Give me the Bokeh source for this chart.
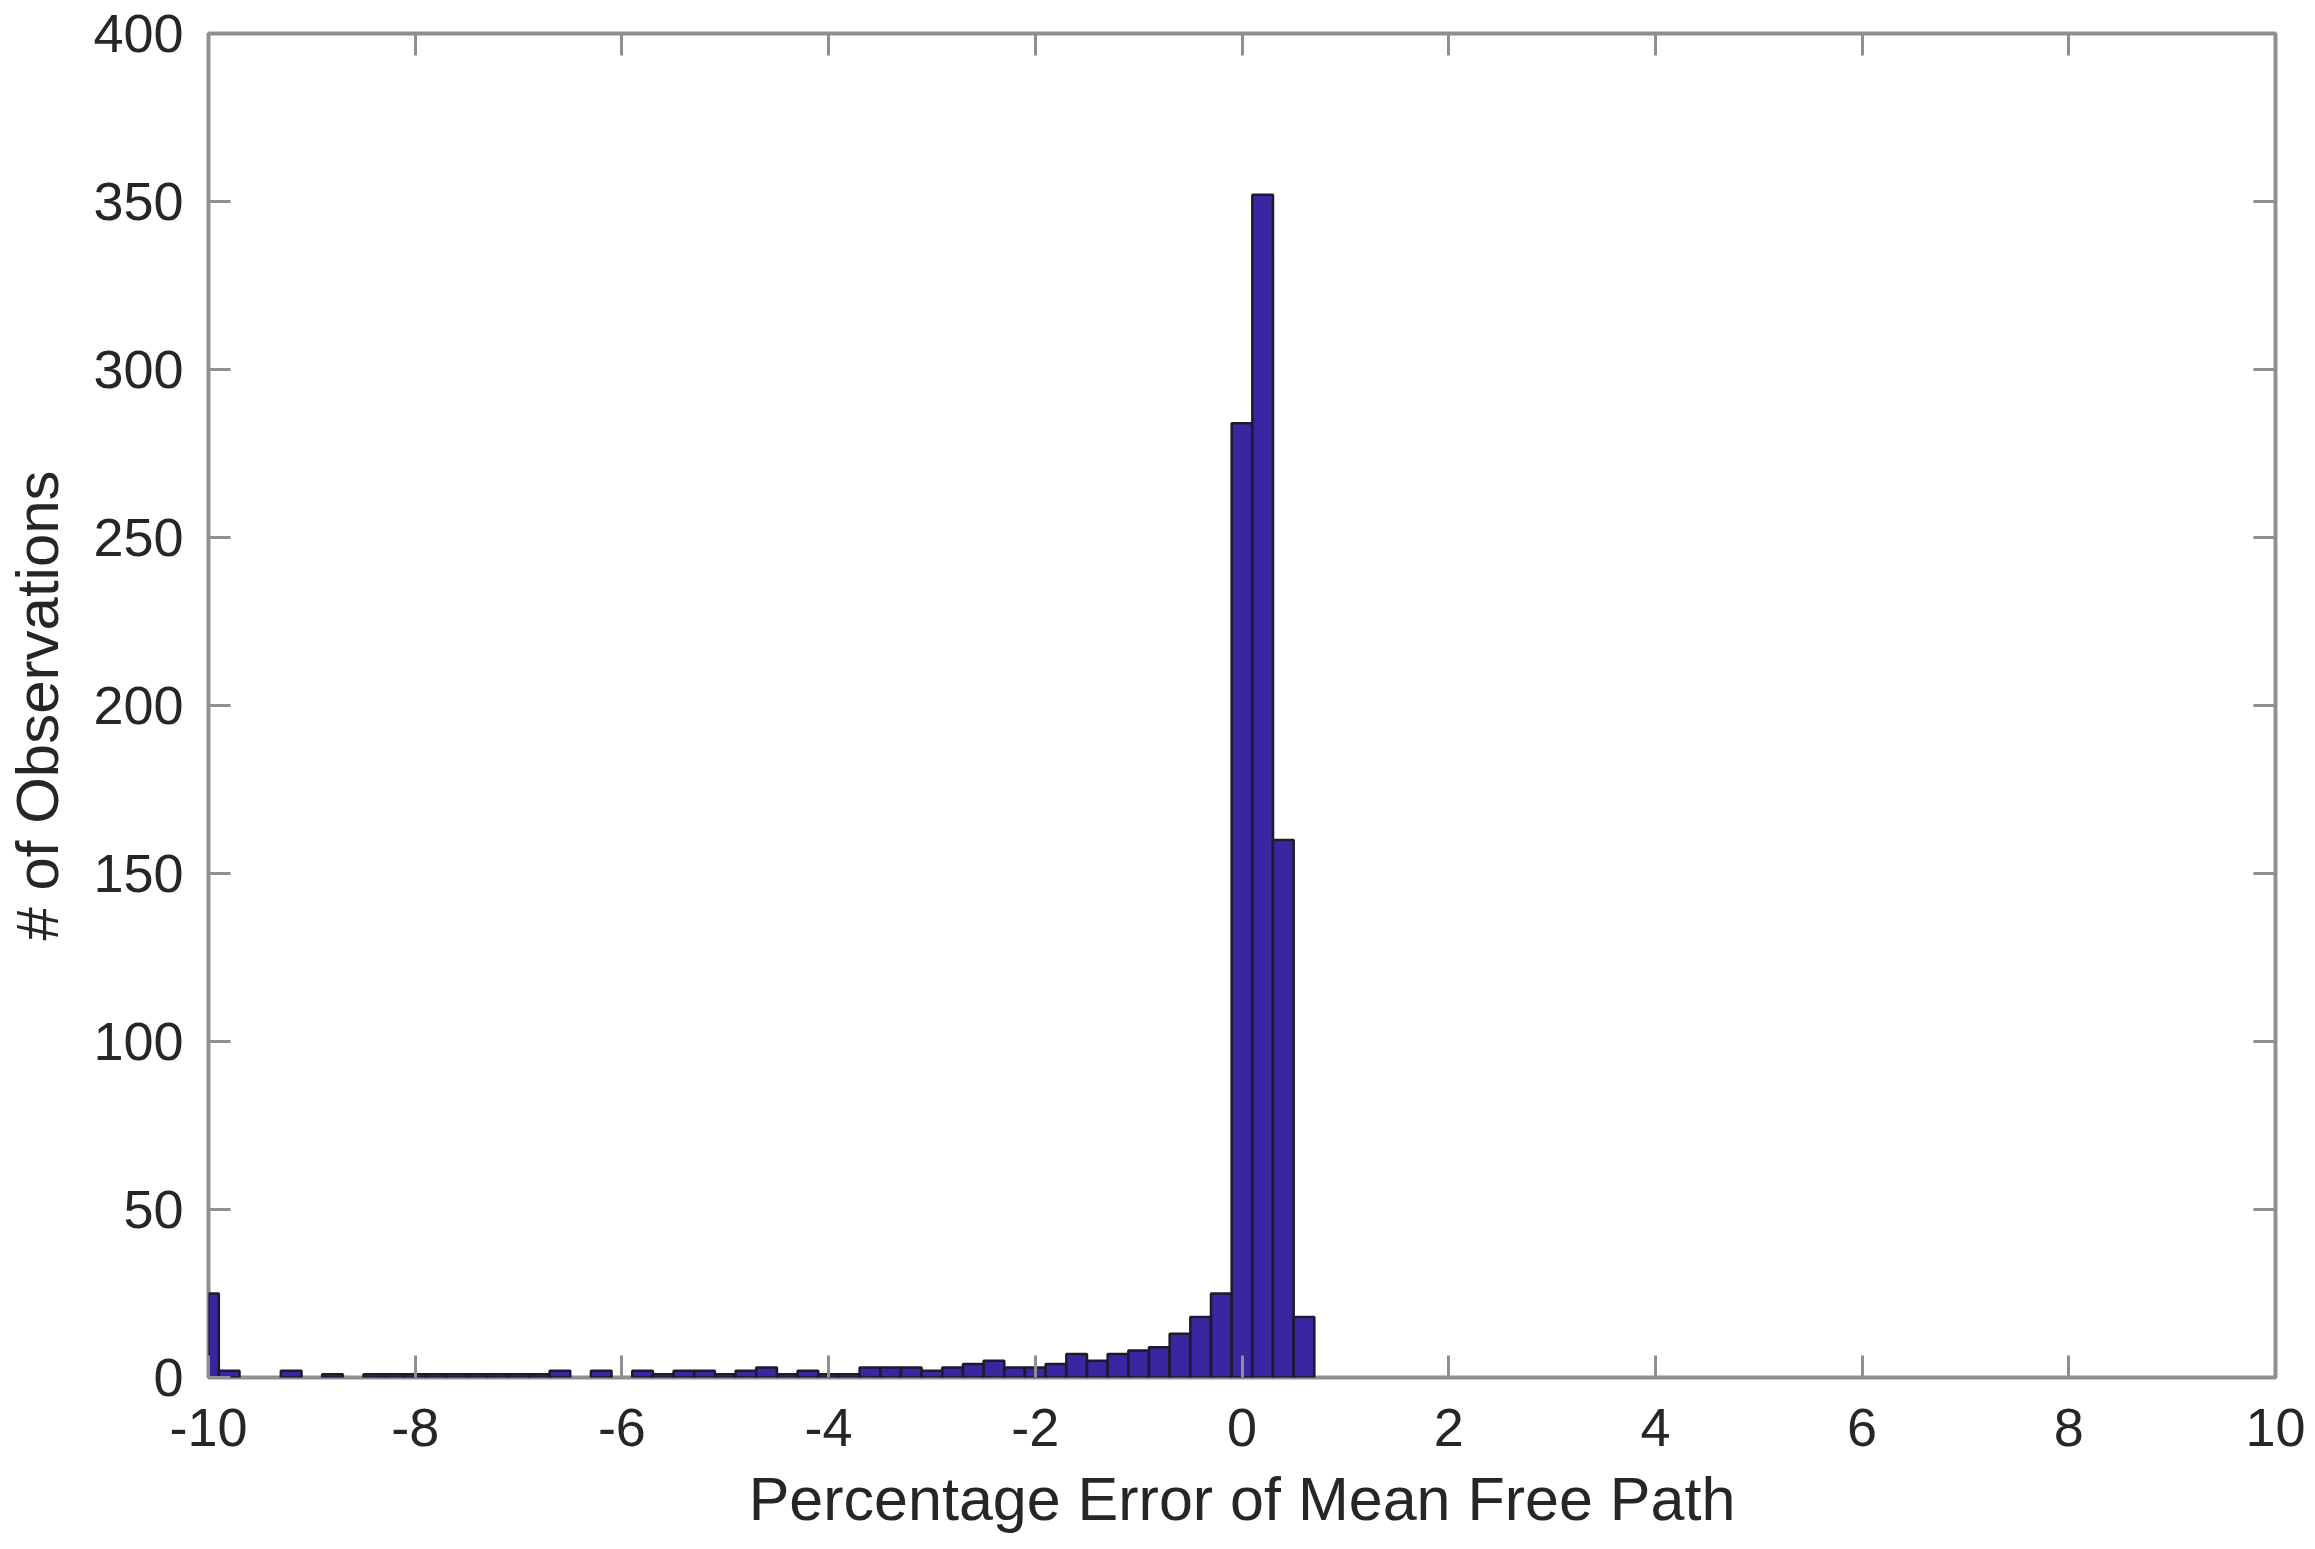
from bokeh.plotting import figure
from bokeh.models import Range1d, LinearAxis, FixedTicker, CustomJSTickFormatter
from bokeh.embed import file_html
from bokeh.resources import INLINE

# Histogram data (bin centers, counts)
bin_centers = [-10.0, -9.8, -9.6, -9.4, -9.2, -9.0, -8.8, -8.6, -8.4, -8.2,
               -8.0, -7.8, -7.6, -7.4, -7.2, -7.0, -6.8, -6.6, -6.4, -6.2,
               -6.0, -5.8, -5.6, -5.4, -5.2, -5.0, -4.8, -4.6, -4.4, -4.2,
               -4.0, -3.8, -3.6, -3.4, -3.2, -3.0, -2.8, -2.6, -2.4, -2.2,
               -2.0, -1.8, -1.6, -1.4, -1.2, -1.0, -0.8, -0.6, -0.4, -0.2,
               0.0, 0.2, 0.4, 0.6]
counts = [25, 2, 0, 0, 2, 0, 1, 0, 1, 1,
          1, 1, 1, 1, 1, 1, 1, 2, 0, 2,
          0, 2, 1, 2, 2, 1, 2, 3, 1, 2,
          1, 1, 3, 3, 3, 2, 3, 4, 5, 3,
          3, 4, 7, 5, 7, 8, 9, 13, 18, 25,
          284, 352, 160, 18]
bin_width = 0.2

x_ticks = [-10, -8, -6, -4, -2, 0, 2, 4, 6, 8, 10]
y_ticks = [0, 50, 100, 150, 200, 250, 300, 350, 400]
x_label = "Percentage Error of Mean Free Path"
y_label = "# of Observations"

FONT = "Liberation Sans"
AX = "#8f8f8f"
TXT = "#262626"

# empty bins draw nothing (as in the reference)
nz_x = [c for c, n in zip(bin_centers, counts) if n > 0]
nz_n = [n for n in counts if n > 0]

p = figure(width=2312, height=1549, output_backend="svg", toolbar_location=None,
           x_range=Range1d(-10, 10), y_range=Range1d(0, 400),
           min_border_left=208, min_border_right=37, min_border_top=33,
           min_border_bottom=172)
p.background_fill_color = "white"
p.border_fill_color = "white"
p.outline_line_color = AX
p.outline_line_width = 4
p.xgrid.visible = False
p.ygrid.visible = False

p.vbar(x=nz_x, top=nz_n, bottom=0, width=bin_width,
       fill_color="#3b25a0", line_color="#1c1a2c", line_width=2.5)

p.add_layout(LinearAxis(), "right")
p.add_layout(LinearAxis(), "above")

plain = CustomJSTickFormatter(code="return tick.toString();")
blank = CustomJSTickFormatter(code="return '';")

for ax in p.axis:
    ax.axis_line_color = None
    ax.major_tick_in = 22
    ax.major_tick_out = 0
    ax.minor_tick_line_color = None
    ax.major_tick_line_color = AX
    ax.major_tick_line_width = 3
    ax.major_label_text_font = FONT
    ax.major_label_text_color = TXT
    ax.major_label_text_font_size = "54px"
    ax.axis_label_text_font = FONT
    ax.axis_label_text_color = TXT
    ax.axis_label_text_font_size = "60px"
    ax.axis_label_text_font_style = "normal"
    ax.formatter = plain

for ax in p.xaxis:
    ax.ticker = FixedTicker(ticks=x_ticks)
for ax in p.yaxis:
    ax.ticker = FixedTicker(ticks=y_ticks)

# secondary axes: ticks only
for ax in (p.right[0], p.above[0]):
    ax.formatter = blank
    ax.major_label_text_color = None
    ax.major_label_text_font_size = "10px"
    ax.major_label_standoff = 0

p.below[0].axis_label = x_label
p.below[0].axis_label_text_font_size = "61px"
p.below[0].major_label_standoff = 31
p.below[0].axis_label_standoff = 16
p.left[0].axis_label = y_label
p.left[0].major_label_standoff = 25
p.left[0].axis_label_standoff = 19

open("out.html", "w").write(file_html(p, INLINE))
